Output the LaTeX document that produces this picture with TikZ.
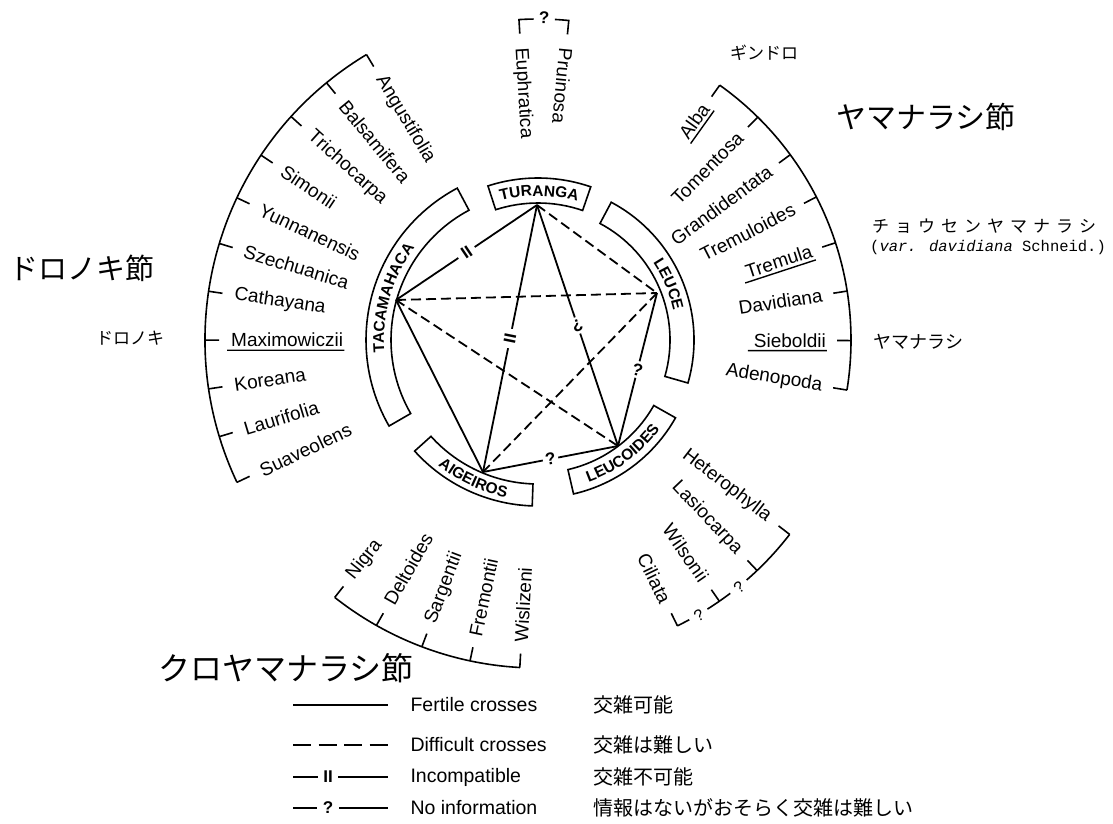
\documentclass[tikz,border=0pt]{standalone}
\usepackage{fontspec}
\setmainfont{Liberation Sans}
\newfontfamily\cjk{Noto Sans CJK JP}
\newfontfamily\latmono{Liberation Mono}
\usetikzlibrary{calc,decorations.text}
\newcommand\bandbox[4]{%
  \draw[bandline] ($(C)+(#1:#3pt)$) arc[start angle=#1, end angle=#2, radius=#3pt]
    -- ($(C)+(#2:#4pt)$) arc[start angle=#2, end angle=#1, radius=#4pt] -- cycle;}
\newcommand\bandtext[4]{%
  \path[decorate, decoration={text along path, text align=center,
     text={|\fontsize{15.5}{18}\bfseries\selectfont|#4}}]
     ($(C)+(#1:#3pt)$) arc[start angle=#1, end angle=#2, radius=#3pt];}
\begin{document}
\begin{tikzpicture}[x=1pt,y=1pt,
  solidln/.style={line width=1.8pt},
  dashln/.style={line width=1.8pt, dash pattern=on 10pt off 5pt},
  bandline/.style={line width=1.6pt, line join=miter},
  brk/.style={line width=1.6pt},
  spname/.style={font=\fontsize{19}{22}\selectfont, inner xsep=1pt, inner ysep=3pt},
  qmark/.style={font=\fontsize{17}{20}\bfseries\selectfont, fill=white, inner sep=2.5pt},
  incomp/.style={font=\fontsize{17}{20}\bfseries\selectfont, fill=white, inner xsep=5pt, inner ysep=0pt, sloped},
  jbig/.style={font=\cjk\fontsize{29}{34}\selectfont},
  jsmall/.style={font=\cjk\fontsize{17}{20}\selectfont},
  legtext/.style={font=\fontsize{19.5}{22}\selectfont, anchor=west},
  legj/.style={font=\cjk\fontsize{20}{22}\selectfont, anchor=west},
  uline/.style={line width=1.4pt}
]
\fill[white] (0,0) rectangle (1113,-823);
\useasboundingbox (0,0) rectangle (1113,-823);

\coordinate (C) at (538,-340);

% ---- section bands ----
\bandbox{71}{108}{137}{162}
\bandbox{118}{210}{147}{172}
\bandbox{-16}{62}{132}{156}
\bandbox{-77}{-29.5}{133}{158}
\bandbox{222}{268}{144}{166}
\bandtext{108}{71}{144}{TURANGA}
\bandtext{210}{118}{154}{TACAMAHACA}
\bandtext{62}{-16}{138.5}{LEUCE}
\bandtext{-77}{-29.5}{151}{LEUCOIDES}
\bandtext{222}{268}{160.5}{AIGEIROS}

% ---- pentagon vertices ----
\coordinate (T) at (537,-205);
\coordinate (L) at (657,-293);
\coordinate (D) at (618,-446);
\coordinate (A) at (483,-472);
\coordinate (M) at (396,-300);

\draw[dashln] (T) -- (L);
\draw[dashln] (M) -- (L);
\draw[dashln] (M) -- (D);
\draw[dashln] (L) -- (A);
\draw[solidln] (M) -- (A);
\draw[solidln] (T) -- node[incomp] (iTM) {II} (M);
\draw[solidln] (T) -- node[incomp] (iTA) {II} (A);
\draw[solidln] (T) -- node[qmark, rotate=198] (qTD) {?} (D);
\draw[solidln] (L) -- node[qmark, rotate=-14] (qLD) {?} (D);
\draw[solidln] (D) -- node[qmark, rotate=10] (qDA) {?} (A);

% ---- TACAMAHACA list ----
\foreach \nm [count=\i from 0] in {Angustifolia,Balsamifera,Trichocarpa,Simonii,Yunnanensis,Szechuanica,Cathayana,Maximowiczii,Koreana,Laurifolia,Suaveolens}{
  \pgfmathsetmacro\ang{121+8.43*\i}
  \draw[brk] ($(C)+(\ang:333pt)$) -- ($(C)+(\ang:319pt)$);
  \node[spname, anchor=west, rotate=\ang+180] (taca\i) at ($(C)+(\ang:308pt)$) {\nm};
}
\draw[brk] ($(C)+(121:333pt)$) arc[start angle=121, end angle=205.3, radius=333pt];
\draw[uline] ($(taca7.south west)!-3pt!(taca7.south east)$) -- (taca7.south east);

% ---- LEUCE list ----
\foreach \nm [count=\i from 0] in {Alba,Tomentosa,Grandidentata,Tremuloides,Tremula,Davidiana,Sieboldii,Adenopoda}{
  \pgfmathsetmacro\ang{54.5-9.1*\i}
  \draw[brk] ($(C)+(\ang:313pt)$) -- ($(C)+(\ang:299pt)$);
  \node[spname, anchor=east, rotate=\ang] (leu\i) at ($(C)+(\ang:289pt)$) {\nm};
}
\draw[brk] ($(C)+(54.5:313pt)$) arc[start angle=54.5, end angle=-9.2, radius=313pt];
\draw[uline] (leu0.south west) -- (leu0.south east);
\draw[uline] ($(leu4.south west)!-3pt!(leu4.south east)$) -- (leu4.south east);
\draw[uline] ($(leu6.south west)!-5pt!(leu6.south east)$) -- (leu6.south east);

% ---- AIGEIROS list ----
\foreach \nm [count=\i from 0] in {Nigra,Deltoides,Sargentii,Fremontii,Wislizeni}{
  \pgfmathsetmacro\ang{231.7+8.78*\i}
  \draw[brk] ($(C)+(\ang:328pt)$) -- ($(C)+(\ang:314pt)$);
  \node[spname, anchor=west, rotate=\ang+180] (aig\i) at ($(C)+(\ang:304pt)$) {\nm};
}
\draw[brk] ($(C)+(231.7:328pt)$) arc[start angle=231.7, end angle=266.82, radius=328pt];

% ---- LEUCOIDES list ----
\foreach \nm [count=\i from 0] in {Ciliata,Wilsonii,Lasiocarpa,Heterophylla}{
  \pgfmathsetmacro\ang{-64+8.77*\i}
  \draw[brk] ($(C)+(\ang:318pt)$) -- ($(C)+(\ang:304pt)$);
  \node[spname, anchor=east, rotate=\ang] (leuc\i) at ($(C)+(\ang:293pt)$) {\nm};
}
\draw[brk] ($(C)+(-64:318pt)$) arc[start angle=-64, end angle=-61.6, radius=318pt];
\node[qmark, fill=none, font=\fontsize{16}{18}\selectfont, rotate=30] (qlc1) at ($(C)+(-59.7:319pt)$) {?};
\draw[brk] ($(C)+(-57.8:318pt)$) arc[start angle=-57.8, end angle=-52.8, radius=318pt];
\node[qmark, fill=none, font=\fontsize{16}{18}\selectfont, rotate=39] (qlc2) at ($(C)+(-50.9:319pt)$) {?};
\draw[brk] ($(C)+(-49:318pt)$) arc[start angle=-49, end angle=-37.69, radius=318pt];

% ---- TURANGA list ----
\node[spname, anchor=west, rotate=273.4] (tur0) at ($(C)+(93.4:294pt)$) {Euphratica};
\node[spname, anchor=west, rotate=264.5] (tur1) at ($(C)+(84.5:294pt)$) {Pruinosa};
\draw[brk] ($(C)+(93.4:307pt)$) -- ($(C)+(93.4:321pt)$) arc[start angle=93.4, end angle=90.8, radius=321pt];
\node[qmark, fill=none, rotate=-1] (qtur) at ($(C)+(88.9:322pt)$) {?};
\draw[brk] ($(C)+(87:321pt)$) arc[start angle=87, end angle=84.5, radius=321pt] -- ($(C)+(84.5:307pt)$);

% ---- Japanese labels ----
\node[jbig, anchor=west] (jtaca) at (6,-268) {ドロノキ節};
\node[jsmall] (jmax) at (130,-338) {ドロノキ};
\node[jsmall] (jalba) at (764,-53) {ギンドロ};
\node[jbig, font=\cjk\fontsize{30}{34}\selectfont, anchor=west] (jleu) at (833,-117) {ヤマナラシ節};
\node[jsmall, anchor=west, inner xsep=0pt] (jtrem) at (872,-226) {チ\hspace{6pt}ョ\hspace{6pt}ウ\hspace{6pt}セ\hspace{6pt}ン\hspace{6pt}ヤ\hspace{6pt}マ\hspace{6pt}ナ\hspace{6pt}ラ\hspace{6pt}シ};
\node[anchor=west, inner xsep=0pt, font=\latmono\fontsize{15.5}{18}\selectfont] (jvar) at (870,-247) {(\textit{var.} \textit{davidiana} Schneid.)};
\node[jsmall, anchor=west, font=\cjk\fontsize{18}{20}\selectfont] (jsieb) at (870,-342) {ヤマナラシ};
\node[jbig, font=\cjk\fontsize{32}{36}\selectfont, anchor=west] (jaig) at (155,-668) {クロヤマナラシ節};

% ---- legend ----
\coordinate (la1) at (293,-705); \coordinate (la2) at (388,-705);
\coordinate (lb1) at (293,-745); \coordinate (lb2) at (388,-745);
\coordinate (lc1) at (293,-777); \coordinate (lc2) at (388,-777);
\coordinate (ld1) at (293,-808); \coordinate (ld2) at (388,-808);
\draw[solidln] (la1) -- (la2);
\draw[line width=1.8pt, dash pattern=on 18pt off 7.5pt] (lb1) -- (lb2);
\draw[solidln] (lc1) -- node[incomp, pos=0.37] (lcII) {II} (lc2);
\draw[solidln] (ld1) -- node[qmark, pos=0.37, inner xsep=6pt] (ldq) {?} (ld2);
\node[legtext] (lta) at (407,-705) {Fertile crosses};
\node[legtext] (ltb) at (407,-745) {Difficult crosses};
\node[legtext] (ltc) at (407,-777) {Incompatible};
\node[legtext] (ltd) at (407,-808) {No information};
\node[legj] (lja) at (590,-705) {交雑可能};
\node[legj] (ljb) at (590,-745) {交雑は難しい};
\node[legj] (ljc) at (590,-777) {交雑不可能};
\node[legj] (ljd) at (590,-808) {情報はないがおそらく交雑は難しい};
\end{tikzpicture}
\end{document}
